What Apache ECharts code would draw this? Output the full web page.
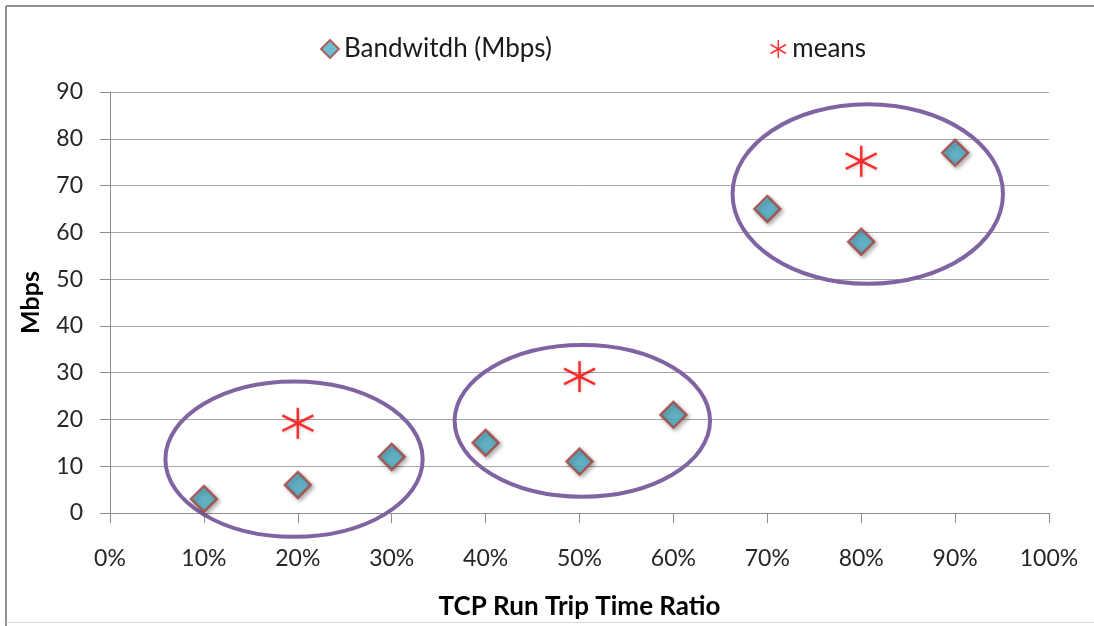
<!DOCTYPE html>
<html>
<head>
<meta charset="utf-8">
<script src="https://cdn.jsdelivr.net/npm/echarts@6/dist/echarts.min.js"></script>
<style>
  html, body { margin: 0; padding: 0; background: #fff; overflow: hidden; }
  #chart { width: 1094px; height: 626px; }
</style>
</head>
<body>
<div id="chart"></div>
<script>
// Round-trip-time ratio (%) for each measurement
const ratios = [10, 20, 30, 40, 50, 60, 70, 80, 90];
// Measured bandwidth in Mbps
const bandwidth = [3, 6, 12, 15, 11, 21, 65, 58, 77];
// Group means: [ratio %, Mbps]
const meanPoints = [[20, 19.2], [50, 29.2], [80, 75.2]];
// Cluster outlines: [centre ratio %, centre Mbps, half-width %, half-height Mbps]
const clusters = [
  [19.6, 11.5, 13.7, 16.6],
  [50.3, 19.7, 13.6, 16.2],
  [80.7, 68.2, 14.4, 19.2]
];
const xTicks = { min: 0, max: 100, step: 10 };
const yTicks = { min: 0, max: 90, step: 10 };

const FONT = 'Lato, "Open Sans", sans-serif';
const ASTERISK = 'path://M0,-10L0,10M-8.66,-5L8.66,5M-8.66,5L8.66,-5';

const chart = echarts.init(document.getElementById('chart'), null, { renderer: 'canvas' });

chart.setOption({
  animation: false,
  backgroundColor: '#ffffff',
  textStyle: { fontFamily: FONT },
  graphic: [
    // outer frame: top and left edges, faint bottom edge
    { type: 'line', z: 101, shape: { x1: 6, y1: 6, x2: 1094, y2: 6 }, style: { stroke: '#8f8f8f', lineWidth: 2 } },
    { type: 'line', z: 101, shape: { x1: 6, y1: 6, x2: 6, y2: 626 }, style: { stroke: '#8f8f8f', lineWidth: 2 } },
    { type: 'line', z: 101, shape: { x1: 6, y1: 622.5, x2: 1094, y2: 622.5 }, style: { stroke: '#d9d9d9', lineWidth: 1 } }
  ],
  legend: [
    {
      left: 315, top: 31,
      itemWidth: 18, itemHeight: 18,
      textStyle: { fontFamily: FONT, fontSize: 26, color: '#1a1a1a' },
      data: [{ name: 'Bandwitdh (Mbps)', icon: 'diamond' }]
    },
    {
      left: 763, top: 31,
      itemWidth: 18, itemHeight: 18,
      textStyle: { fontFamily: FONT, fontSize: 26, color: '#1a1a1a' },
      data: [{ name: 'means', icon: ASTERISK,
               itemStyle: { color: 'none', borderColor: '#ff0000', borderWidth: 1.5 } }]
    }
  ],
  grid: { left: 110, right: 45, top: 92, bottom: 113, containLabel: false, outerBoundsMode: 'none' },
  xAxis: {
    type: 'value',
    min: xTicks.min, max: xTicks.max, interval: xTicks.step,
    name: 'TCP Run Trip Time Ratio',
    nameLocation: 'middle',
    nameGap: 81,
    nameTextStyle: { fontFamily: FONT, fontSize: 26, fontWeight: 'bold', color: '#000' },
    axisLine: { show: true, lineStyle: { color: '#8c8c8c', width: 1 } },
    axisTick: { show: true, length: 10, lineStyle: { color: '#8c8c8c' } },
    axisLabel: { formatter: v => v + '%', margin: 34, fontSize: 23, color: '#262626', fontFamily: FONT },
    splitLine: { show: false }
  },
  yAxis: {
    type: 'value',
    min: yTicks.min, max: yTicks.max, interval: yTicks.step,
    name: 'Mbps',
    nameLocation: 'middle',
    nameGap: 67,
    nameRotate: 90,
    nameTextStyle: { fontFamily: FONT, fontSize: 25, fontWeight: 'bold', color: '#000' },
    axisLine: { show: true, lineStyle: { color: '#8c8c8c', width: 1 } },
    axisTick: { show: true, length: 10, lineStyle: { color: '#8c8c8c' } },
    axisLabel: { margin: 27, fontSize: 23, color: '#262626', fontFamily: FONT },
    splitLine: { show: true, lineStyle: { color: '#a6a6a6', width: 1 } }
  },
  series: [
    {
      name: 'clusters',
      type: 'custom',
      clip: false,
      silent: true,
      z: 1,
      data: clusters,
      renderItem: (params, api) => {
        const c = api.coord([api.value(0), api.value(1)]);
        const ex = api.coord([api.value(0) + api.value(2), api.value(1) + api.value(3)]);
        return {
          type: 'ellipse',
          shape: { cx: c[0], cy: c[1], rx: Math.abs(ex[0] - c[0]), ry: Math.abs(c[1] - ex[1]) },
          style: { fill: 'none', stroke: '#8064a2', lineWidth: 4 }
        };
      }
    },
    {
      name: 'Bandwitdh (Mbps)',
      type: 'scatter',
      symbol: 'diamond',
      symbolSize: 26,
      z: 3,
      data: ratios.map((r, i) => [r, bandwidth[i]]),
      itemStyle: {
        color: '#4bacc6',
        borderColor: '#a6423f',
        borderWidth: 2.5,
        shadowColor: 'rgba(0,0,0,0.35)',
        shadowBlur: 4,
        shadowOffsetX: 2,
        shadowOffsetY: 2
      }
    },
    {
      name: 'means',
      type: 'scatter',
      symbol: ASTERISK,
      symbolSize: 31,
      z: 3,
      data: meanPoints,
      itemStyle: {
        color: 'none',
        borderColor: '#ff0000',
        borderWidth: 2.5,
        shadowColor: 'rgba(0,0,0,0.25)',
        shadowBlur: 3,
        shadowOffsetX: 1,
        shadowOffsetY: 1
      }
    }
  ]
});
</script>
</body>
</html>
